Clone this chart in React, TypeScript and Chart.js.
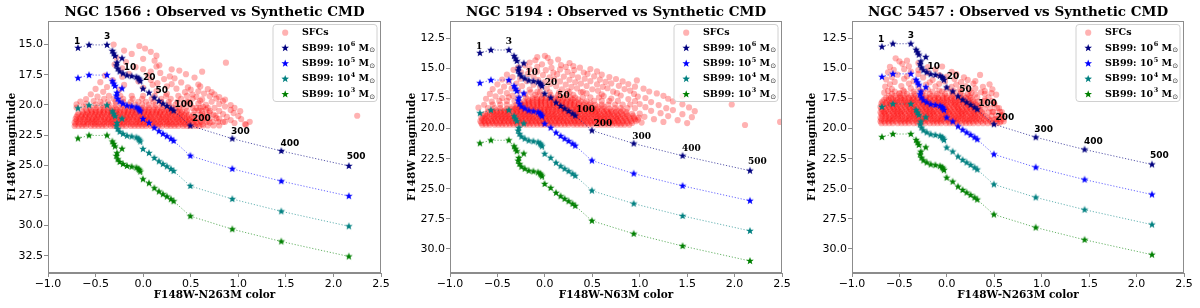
import React, { useEffect, useRef } from "react";
import { Chart, registerables } from "chart.js";
Chart.register(...registerables);

// ------------------------------------------------------------------ data
const GALAXY_NAMES = ["NGC 1566", "NGC 5194", "NGC 5457"];
const X_AXIS_TITLES = ["F148W-N263M color", "F148W-N63M color", "F148W-N263M color"];
const Y_AXIS_TITLE = "F148W magnitude";
const X_TICKS = [-1.0, -0.5, 0.0, 0.5, 1.0, 1.5, 2.0, 2.5];
const Y_TICKS_1566 = [15.0, 17.5, 20.0, 22.5, 25.0, 27.5, 30.0, 32.5];
const Y_TICKS_5194 = [12.5, 15.0, 17.5, 20.0, 22.5, 25.0, 27.5, 30.0];
const Y_TICKS_5457 = [12.5, 15.0, 17.5, 20.0, 22.5, 25.0, 27.5, 30.0];
const X_RANGE = [-1.0, 2.5];
const Y_RANGE_1566 = [13.05, 33.93];
const Y_RANGE_5194 = [11.06, 32.0];
const Y_RANGE_5457 = [11.06, 32.0];

// SB99 10^6 Msun track as seen in NGC 1566 (colour, magnitude)
const TRACK_COLOR = [
  -0.685, -0.569, -0.38, -0.324, -0.31, -0.296, -0.222, -0.275, -0.282, -0.268,
  -0.247, -0.212, -0.17, -0.121, -0.071, -0.05, -0.04, -0.03, -0.002, 0.061,
  0.118, 0.166, 0.208, 0.25, 0.292, 0.32, 0.496, 0.937, 1.452, 2.162,
];
const TRACK_MAG_1566 = [
  15.28, 15.03, 15.03, 15.53, 15.74, 15.94, 16.14, 16.5, 16.73, 17.0,
  17.23, 17.4, 17.56, 17.62, 17.7, 17.8, 17.9, 18.03, 18.66, 18.99,
  19.4, 19.68, 19.9, 20.1, 20.31, 20.48, 21.72, 22.8, 23.82, 25.06,
];
const GALAXY_MAG_SHIFT = [0, -1.56, -2.08];
const MASS_EXPONENTS = ["6", "5", "4", "3"];
const MASS_MAG_SHIFT = [0, 2.5, 5.0, 7.5];
const AGE_LABELS = ["1", "3", "10", "20", "50", "100", "200", "300", "400", "500"];
const AGE_LABEL_POINT = [0, 2, 9, 17, 19, 25, 26, 27, 28, 29];

// Observed SFCs. Dense part as rows: [F148W magnitude, colours in units of 0.01 mag];
// the sparse cloud as [colour, magnitude] pairs.
type Row = [number, number[]];
type Pair = [number, number];
const SFC_1566_DENSE: Row[] = [
  [21.75, [-72, -68, -64, -60, -55, -51, -47, -43, -39, -34, -30, -26, -22, -18, -13, -9, -5, -1, 3, 8, 12, 16, 20, 25, 29, 33, 37, 42, 46, 50, 55, 59]],
  [21.6, [-71, -66, -62, -58, -53, -49, -45, -41, -36, -32, -28, -24, -20, -15, -11, -7, -3, 1, 5, 10, 14, 18, 23, 27, 31, 35, 40, 44, 48, 53, 57, 62]],
  [21.45, [-72, -68, -63, -59, -55, -51, -47, -42, -38, -34, -30, -25, -21, -17, -13, -8, -4, 0, 4, 8, 12, 17, 21, 25, 29, 34, 38, 42, 47, 51, 56]],
  [21.3, [-70, -66, -61, -57, -53, -49, -44, -40, -36, -32, -27, -23, -19, -15, -10, -6, -2, 2, 6, 11, 15, 19, 24, 28, 32, 37, 41, 45, 49, 54, 60]],
  [21.15, [-71, -67, -63, -58, -54, -50, -46, -41, -37, -33, -29, -24, -20, -16, -12, -7, -3, 1, 5, 9, 13, 18, 22, 26, 31, 35, 39, 44, 48, 53]],
  [21.0, [-70, -65, -61, -57, -52, -48, -44, -40, -35, -31, -27, -23, -18, -14, -10, -6, -1, 3, 7, 11, 16, 20, 24, 28, 33, 37, 41, 46, 51]],
  [20.85, [-69, -64, -60, -56, -51, -47, -43, -38, -34, -30, -26, -21, -17, -13, -9, -4, 0, 4, 8, 13, 17, 21, 26, 30, 34, 39, 43, 48]],
  [20.7, [-68, -63, -58, -54, -50, -45, -41, -37, -33, -28, -24, -20, -16, -11, -7, -3, 1, 6, 10, 14, 18, 23, 27, 31, 36, 40, 45]],
  [20.55, [-64, -59, -54, -50, -46, -42, -37, -33, -29, -25, -20, -16, -12, -8, -3, 1, 5, 9, 14, 18, 22, 27, 31, 36, 41]],
  [20.4, [-60, -55, -50, -45, -41, -37, -32, -28, -24, -19, -15, -11, -7, -2, 2, 6, 11, 15, 20, 24, 29, 34, 39]],
  [20.22, [-56, -49, -42, -36, -30, -24, -18, -12, -6, 0, 6, 12, 18, 25, 31, 38, 45]],
  [19.98, [-50, -43, -36, -29, -22, -15, -8, -1, 6, 13, 20, 27, 34, 42]],
  [19.74, [-45, -37, -29, -21, -13, -5, 3, 11, 19, 27, 36, 46]],
  [19.5, [-41, -31, -21, -11, -1, 9, 19, 29, 40]],
  [19.25, [-36, -24, -12, 0, 12, 24, 37]],
  [21.7, [63, 68, 74, 80]],
  [21.4, [61, 67, 73, 79, 86]],
  [21.1, [57, 64, 70, 77]],
  [20.8, [53, 60, 67, 74]],
  [20.5, [46, 54, 62, 70]],
  [20.25, [52, 60, 68]],
];
const SFC_1566_CLOUD: Pair[] = [
  [-0.31, 15.0], [-0.04, 15.12], [0.02, 15.33], [-0.2, 15.5], [0.08, 15.6], [-0.12, 15.78], [0.14, 15.92],
  [0.0, 16.18], [-0.28, 16.1], [0.12, 16.34], [0.87, 16.5], [-0.18, 16.45], [0.17, 16.72], [-0.3, 16.66],
  [-0.08, 16.88], [0.14, 16.82], [0.0, 17.04], [-0.22, 16.97], [0.3, 17.05], [0.08, 17.24], [0.38, 17.16],
  [0.62, 17.25], [-0.15, 17.42], [0.18, 17.35], [0.45, 17.46], [-0.4, 17.58], [-0.22, 17.66], [0.05, 17.55],
  [0.28, 17.64], [0.54, 17.73], [0.33, 17.8], [0.08, 17.93], [0.22, 17.86], [-0.32, 17.95], [-0.45, 18.12],
  [-0.05, 18.05], [0.4, 18.14], [0.15, 18.2], [0.1, 18.33], [0.3, 18.28], [-0.2, 18.35], [0.58, 18.32],
  [-0.38, 18.52], [0.25, 18.46], [0.47, 18.55], [0.6, 18.47], [0.0, 18.58], [-0.5, 18.68], [-0.25, 18.75],
  [0.35, 18.66], [0.5, 18.74], [0.68, 18.7], [-0.42, 18.92], [0.14, 18.86], [0.44, 18.95], [0.58, 18.88],
  [0.72, 18.94], [-0.55, 19.12], [0.25, 19.08], [0.52, 19.15], [0.64, 19.06], [0.75, 19.13], [-0.48, 19.32],
  [0.46, 19.26], [0.56, 19.34], [0.7, 19.28], [0.8, 19.36], [-0.6, 19.52], [0.52, 19.47], [0.62, 19.55],
  [0.77, 19.48], [0.86, 19.56], [-0.66, 19.72], [-0.52, 19.68], [0.48, 19.75], [0.6, 19.66], [0.72, 19.74],
  [0.84, 19.68], [-0.7, 19.96], [-0.6, 19.9], [0.5, 19.98], [0.58, 19.88], [0.66, 20.0], [0.8, 19.92],
  [0.92, 20.02], [-0.7, 20.22], [-0.63, 20.15], [0.56, 20.25], [0.63, 20.16], [0.75, 20.24], [0.86, 20.14],
  [0.96, 20.25], [0.58, 20.45], [0.66, 20.38], [0.8, 20.5], [0.92, 20.42], [1.02, 20.52], [0.62, 20.72],
  [0.7, 20.64], [0.84, 20.76], [0.95, 20.68], [0.64, 20.95], [0.76, 20.9], [0.88, 21.0], [1.0, 20.92],
  [0.66, 21.22], [0.8, 21.15], [0.92, 21.26], [1.03, 21.18], [0.7, 21.47], [0.84, 21.42], [0.96, 21.5],
  [1.12, 21.4], [1.07, 21.6], [1.08, 21.64], [2.25, 20.9],
];

const SFC_5194_DENSE: Row[] = [
  [19.68, [-66, -62, -58, -53, -49, -45, -41, -37, -33, -29, -25, -20, -16, -12, -8, -4, 0, 5, 9, 13, 17, 21, 25, 30, 34, 38, 42, 46, 50, 55, 59, 63, 67, 71, 76, 80, 84, 89]],
  [19.53, [-67, -63, -59, -55, -51, -47, -43, -38, -34, -30, -26, -22, -18, -14, -9, -5, -1, 3, 7, 11, 15, 20, 24, 28, 32, 36, 40, 45, 49, 53, 57, 61, 65, 70, 74, 78, 82, 87, 92]],
  [19.38, [-68, -64, -60, -56, -52, -47, -43, -39, -35, -31, -27, -23, -18, -14, -10, -6, -2, 2, 6, 11, 15, 19, 23, 27, 31, 35, 40, 44, 48, 52, 56, 60, 65, 69, 73, 77, 82, 86, 91, 96]],
  [19.23, [-66, -62, -57, -53, -49, -45, -41, -37, -33, -28, -24, -20, -16, -12, -8, -3, 1, 5, 9, 13, 17, 21, 26, 30, 34, 38, 42, 46, 51, 55, 59, 63, 67, 72, 76, 80, 85, 90, 95]],
  [19.08, [-67, -63, -59, -54, -50, -46, -42, -38, -34, -30, -25, -21, -17, -13, -9, -5, 0, 4, 8, 12, 16, 20, 24, 29, 33, 37, 41, 45, 49, 54, 58, 62, 66, 70, 75, 79, 84, 89, 94, 99]],
  [18.93, [-65, -61, -56, -52, -48, -44, -40, -36, -31, -27, -23, -19, -15, -11, -6, -2, 2, 6, 10, 14, 18, 23, 27, 31, 35, 39, 43, 48, 52, 56, 60, 64, 69, 73, 77, 82, 87, 93]],
  [18.78, [-63, -58, -54, -50, -46, -42, -38, -33, -29, -25, -21, -17, -13, -8, -4, 0, 4, 8, 12, 17, 21, 25, 29, 33, 37, 42, 46, 50, 54, 58, 63, 67, 71, 76, 81, 86, 92]],
  [18.63, [-60, -55, -51, -47, -43, -39, -34, -30, -26, -22, -18, -14, -9, -5, -1, 3, 7, 11, 16, 20, 24, 28, 32, 36, 41, 45, 49, 53, 57, 62, 66, 70, 75, 80, 86]],
  [18.48, [-56, -51, -46, -42, -38, -33, -29, -25, -21, -17, -12, -8, -4, 0, 4, 9, 13, 17, 21, 25, 30, 34, 38, 42, 47, 51, 55, 60, 65, 70, 76, 82]],
  [18.33, [-40, -35, -31, -27, -22, -18, -14, -10, -5, -1, 3, 7, 12, 16, 20, 24, 29, 33, 37, 42, 46, 51, 56, 62, 68]],
  [18.18, [-34, -29, -25, -21, -16, -12, -8, -4, 1, 5, 9, 13, 18, 22, 26, 31, 35, 40, 45, 50, 56, 62]],
  [18.03, [-30, -25, -21, -17, -12, -8, -4, 1, 5, 9, 14, 18, 22, 27, 31, 36, 41, 47, 53]],
  [17.88, [-26, -21, -17, -13, -8, -4, 0, 5, 9, 13, 18, 22, 27, 31, 36, 42, 48]],
  [17.73, [-22, -17, -13, -8, -4, 0, 5, 9, 14, 18, 23, 27, 32, 38, 44]],
  [17.58, [-18, -13, -8, -4, 1, 5, 10, 14, 19, 24, 29, 35]],
  [17.43, [-13, -8, -3, 1, 6, 11, 16, 21, 27, 32]],
  [18.3, [-60, -53, -47, 74, 80, 87, 95]],
  [18.0, [-55, -47, -40, 60, 67, 74, 82, 90]],
  [17.7, [-48, -40, -32, 52, 60, 68, 77]],
  [17.4, [-38, -28, -20, 40, 48, 57]],
  [17.2, [-10, -2, 6, 14, 22, 30]],
  [16.98, [-15, -5, 5, 15, 26, 38]],
];
const SFC_5194_CLOUD: Pair[] = [
  [0.0, 13.95], [0.03, 14.12], [-0.08, 14.06], [-0.1, 14.32], [0.14, 14.26], [-0.16, 14.52], [0.06, 14.46],
  [0.26, 14.55], [-0.21, 14.74], [-0.03, 14.66], [0.17, 14.72], [0.3, 14.8], [-0.28, 14.92], [-0.08, 14.86],
  [0.07, 14.95], [0.22, 14.88], [0.37, 14.94], [-0.33, 15.12], [-0.16, 15.06], [0.01, 15.15], [0.16, 15.08],
  [0.31, 15.14], [0.48, 15.05], [-0.25, 15.33], [-0.08, 15.26], [0.09, 15.35], [0.24, 15.28], [0.41, 15.34],
  [0.55, 15.25], [-0.4, 15.52], [-0.18, 15.46], [-0.02, 15.55], [0.13, 15.48], [0.29, 15.54], [0.45, 15.45],
  [0.6, 15.52], [-0.34, 15.72], [-0.12, 15.66], [0.05, 15.74], [0.2, 15.68], [0.35, 15.75], [0.52, 15.66],
  [0.68, 15.72], [-0.45, 15.92], [-0.26, 15.86], [-0.07, 15.95], [0.1, 15.88], [0.26, 15.94], [0.42, 15.86],
  [0.58, 15.93], [0.75, 15.88], [0.97, 16.0], [-0.38, 16.12], [-0.19, 16.06], [0.0, 16.14], [0.16, 16.08],
  [0.32, 16.15], [0.48, 16.06], [0.64, 16.12], [0.82, 16.08], [-0.5, 16.32], [-0.3, 16.26], [-0.12, 16.35],
  [0.06, 16.28], [0.22, 16.34], [0.38, 16.26], [0.55, 16.33], [0.7, 16.25], [0.88, 16.3], [-0.43, 16.52],
  [-0.24, 16.46], [-0.05, 16.55], [0.12, 16.48], [0.28, 16.54], [0.44, 16.46], [0.61, 16.53], [0.78, 16.45],
  [0.95, 16.52], [-0.55, 16.72], [-0.35, 16.66], [-0.16, 16.75], [0.02, 16.68], [0.18, 16.74], [0.34, 16.66],
  [0.5, 16.73], [0.66, 16.65], [0.84, 16.72], [1.04, 16.68], [-0.47, 16.92], [-0.28, 16.86], [-0.08, 16.95],
  [0.24, 16.88], [0.4, 16.94], [0.56, 16.86], [0.72, 16.93], [0.9, 16.85], [1.1, 16.92], [-0.58, 17.12],
  [-0.4, 17.06], [-0.21, 17.14], [0.44, 17.08], [0.6, 17.15], [0.76, 17.06], [0.94, 17.12], [1.18, 17.08],
  [-0.52, 17.32], [-0.34, 17.26], [0.62, 17.3], [0.8, 17.25], [0.98, 17.34], [1.25, 17.28], [1.45, 17.32],
  [-0.62, 17.52], [-0.45, 17.46], [0.7, 17.5], [0.88, 17.55], [1.06, 17.46], [1.3, 17.52], [-0.56, 17.76],
  [0.95, 17.72], [1.12, 17.8], [1.35, 17.74], [-0.64, 18.02], [1.0, 17.96], [1.2, 18.05], [1.45, 17.98],
  [1.97, 18.0], [-0.7, 18.26], [1.06, 18.22], [1.28, 18.3], [1.52, 18.24], [1.12, 18.52], [1.35, 18.46],
  [1.58, 18.55], [1.0, 18.76], [1.22, 18.72], [1.45, 18.8], [1.05, 19.02], [1.3, 18.96], [1.55, 19.05],
  [0.98, 19.26], [1.15, 19.22], [1.4, 19.3], [1.02, 19.5], [1.25, 19.45], [1.5, 19.54], [2.11, 19.7],
  [2.48, 19.45],
];

const SFC_5457_DENSE: Row[] = [
  [19.55, [-69, -65, -61, -57, -52, -48, -44, -40, -35, -31, -27, -23, -18, -14, -10, -6, -1, 3, 7, 11, 16, 20, 24, 28, 33, 38, 43, 48, 53]],
  [19.4, [-70, -66, -62, -58, -54, -49, -45, -41, -37, -32, -28, -24, -20, -15, -11, -7, -3, 2, 6, 10, 14, 19, 23, 27, 31, 36, 41, 46, 52, 57]],
  [19.25, [-69, -64, -60, -56, -51, -47, -43, -39, -34, -30, -26, -22, -17, -13, -9, -5, 0, 4, 8, 12, 17, 21, 25, 30, 34, 39, 45, 50]],
  [19.1, [-70, -65, -61, -57, -53, -49, -44, -40, -36, -32, -27, -23, -19, -15, -10, -6, -2, 2, 7, 11, 15, 19, 24, 28, 32, 37, 43]],
  [18.95, [-68, -64, -59, -55, -51, -47, -42, -38, -34, -30, -25, -21, -17, -13, -8, -4, 0, 5, 9, 13, 17, 22, 26, 30, 35, 40, 47]],
  [18.8, [-69, -65, -61, -56, -52, -48, -44, -39, -35, -31, -27, -22, -18, -14, -10, -5, -1, 3, 7, 12, 16, 20, 25, 29, 33, 38]],
  [18.65, [-70, -66, -62, -57, -53, -49, -45, -40, -36, -32, -28, -23, -19, -15, -11, -6, -2, 2, 6, 11, 15, 19, 23, 28, 32, 37, 44]],
  [18.5, [-68, -64, -59, -55, -51, -47, -42, -38, -34, -30, -25, -21, -17, -13, -8, -4, 0, 4, 9, 13, 17, 21, 26, 30, 35]],
  [18.35, [-69, -65, -60, -56, -52, -48, -43, -39, -35, -31, -26, -22, -18, -14, -9, -5, -1, 3, 8, 12, 16, 21, 25, 29, 34, 40]],
  [18.2, [-70, -66, -61, -57, -53, -49, -44, -40, -36, -32, -27, -23, -19, -15, -10, -6, -2, 2, 7, 11, 15, 20, 24, 28, 33]],
  [18.05, [-68, -63, -59, -55, -51, -46, -42, -38, -34, -29, -25, -21, -17, -12, -8, -4, 0, 5, 9, 13, 18, 22, 27, 31, 36]],
  [17.9, [-69, -64, -60, -56, -52, -47, -43, -39, -35, -30, -26, -22, -18, -13, -9, -5, -1, 4, 8, 12, 17, 21, 25, 30]],
  [17.75, [-68, -63, -58, -54, -50, -45, -41, -37, -33, -28, -24, -20, -16, -11, -7, -3, 1, 6, 10, 14, 19, 23, 28, 33]],
  [17.6, [-66, -61, -57, -52, -48, -44, -39, -35, -31, -26, -22, -18, -13, -9, -5, 0, 4, 8, 13, 17, 22, 27]],
  [17.45, [-64, -59, -54, -49, -45, -40, -36, -31, -27, -22, -18, -13, -9, -4, 0, 5, 10, 15, 20, 25]],
  [17.3, [-61, -55, -49, -44, -38, -33, -27, -22, -16, -11, -5, 0, 6, 12, 18, 24]],
  [17.12, [-58, -50, -42, -34, -26, -18, -10, -2, 6, 14, 22]],
  [16.92, [-55, -45, -35, -25, -15, -5, 5, 15]],
  [19.5, [56]], [19.2, [55]], [18.9, [52, 58]], [18.6, [49, 56]], [18.3, [46, 53]],
  [18.0, [42, 50]], [17.7, [40, 48]], [17.4, [32, 44]],
];
const SFC_5457_CLOUD: Pair[] = [
  [-0.54, 14.16], [-0.5, 14.42], [-0.42, 14.36], [-0.47, 14.62], [-0.3, 14.56], [-0.6, 14.88], [-0.4, 14.82],
  [-0.2, 14.9], [-0.05, 14.84], [-0.56, 15.12], [-0.45, 15.06], [-0.3, 15.14], [-0.12, 15.08], [-0.62, 15.32],
  [-0.38, 15.26], [-0.2, 15.35], [0.05, 15.28], [-0.52, 15.52], [-0.3, 15.46], [-0.08, 15.55], [0.1, 15.48],
  [0.35, 15.54], [-0.58, 15.72], [-0.42, 15.66], [-0.25, 15.75], [0.0, 15.68], [0.18, 15.74], [-0.64, 15.92],
  [-0.45, 15.86], [-0.15, 15.95], [0.08, 15.88], [0.22, 15.96], [-0.55, 16.12], [-0.35, 16.06], [-0.18, 16.15],
  [-0.02, 16.08], [0.15, 16.14], [0.3, 16.06], [-0.6, 16.32], [-0.4, 16.26], [-0.22, 16.35], [-0.08, 16.28],
  [0.1, 16.34], [0.28, 16.26], [0.45, 16.32], [-0.65, 16.52], [-0.48, 16.46], [-0.3, 16.55], [-0.12, 16.48],
  [0.05, 16.54], [0.2, 16.46], [0.38, 16.53], [-0.58, 16.72], [-0.38, 16.66], [-0.2, 16.75], [0.0, 16.68],
  [0.14, 16.74], [0.3, 16.66], [0.48, 16.73], [-0.62, 16.87], [-0.46, 16.82], [-0.28, 16.9], [-0.08, 16.84],
  [0.08, 16.9], [0.24, 16.82], [0.4, 16.88], [-0.66, 17.02], [-0.5, 17.06], [0.26, 17.04], [0.36, 16.98],
  [0.47, 17.06], [0.3, 17.16], [0.4, 17.12], [0.52, 17.18], [0.4, 17.6], [0.5, 17.9], [0.55, 18.3],
  [0.48, 18.6], [0.58, 18.62], [0.58, 18.9], [0.52, 19.2], [0.6, 19.18], [0.6, 19.4],
];

const Y_TICKS = [Y_TICKS_1566, Y_TICKS_5194, Y_TICKS_5457];
const Y_RANGES = [Y_RANGE_1566, Y_RANGE_5194, Y_RANGE_5457];
const SFC_DENSE = [SFC_1566_DENSE, SFC_5194_DENSE, SFC_5457_DENSE];
const SFC_CLOUD = [SFC_1566_CLOUD, SFC_5194_CLOUD, SFC_5457_CLOUD];

// ------------------------------------------------------------------ style / layout
const PANEL_W = 400;
const PANEL_H = 308;
const PLOT_LEFT = [48, 50, 52];
const PLOT_RIGHT_PAD = [19, 18, 16];
const PLOT_TOP = 21;
const X_AXIS_H = 35;
const SERIES_COLORS = ["#000080", "#0000ff", "#008080", "#008000"];
const LINE_COLORS = ["rgba(0,0,128,0.65)", "rgba(0,0,255,0.6)", "rgba(0,128,128,0.6)", "rgba(0,128,0,0.6)"];
const SFC_COLOR = "rgba(255,0,0,0.3)";
const FRAME_COLOR = "#8c8c8c";
const AGE_DX = [-4, -3, 6, 2.7, 6.6, 1, 1.6, -1.4, -0.7, -2];
const AGE_DY = [-6.7, -8, -1.2, -3.1, -1.8, -6, -6.9, -7.3, -7.4, -9];

const fmt = (v: number) => (v < 0 ? "\u2212" : "") + Math.abs(v).toFixed(1);

function starPath(ctx: CanvasRenderingContext2D, cx: number, cy: number, r: number) {
  ctx.beginPath();
  for (let i = 0; i < 10; i++) {
    const rad = i % 2 === 0 ? r : r * 0.42;
    const a = -Math.PI / 2 + (i * Math.PI) / 5;
    ctx.lineTo(cx + rad * Math.cos(a), cy + rad * Math.sin(a));
  }
  ctx.closePath();
}

function starImage(color: string, r: number) {
  const c = document.createElement("canvas");
  const s = Math.ceil(r * 2 + 2);
  c.width = s;
  c.height = s;
  const ctx = c.getContext("2d")!;
  ctx.fillStyle = color;
  starPath(ctx, s / 2, s / 2, r);
  ctx.fill();
  return c;
}

function sfcPoints(p: number) {
  const pts: { x: number; y: number }[] = [];
  SFC_DENSE[p].forEach(([m, xs]) => xs.forEach((c) => pts.push({ x: c / 100, y: m })));
  SFC_CLOUD[p].forEach(([c, m]) => pts.push({ x: c, y: m }));
  return pts;
}

function buildConfig(p: number): any {
  const tracks = MASS_EXPONENTS.map((e, k) => ({
    type: "scatter",
    label: "SB99: 10^" + e,
    data: TRACK_COLOR.map((c, i) => ({ x: c, y: TRACK_MAG_1566[i] + GALAXY_MAG_SHIFT[p] + MASS_MAG_SHIFT[k] })),
    showLine: true,
    borderColor: LINE_COLORS[k],
    borderWidth: 1,
    borderDash: [1.2, 1.8],
    backgroundColor: SERIES_COLORS[k],
    pointStyle: starImage(SERIES_COLORS[k], 4),
    pointRadius: 4,
    pointHoverRadius: 4,
    order: 1 + k,
  }));

  const datasets = [
    ...tracks,
    {
      type: "scatter",
      label: "SFCs",
      data: sfcPoints(p),
      pointRadius: 3.1,
      pointHoverRadius: 3.1,
      backgroundColor: SFC_COLOR,
      borderWidth: 0,
      order: 10,
    },
  ];

  const decor = {
    id: "decor" + p,
    afterDatasetsDraw(chart: any) {
      const ctx = chart.ctx as CanvasRenderingContext2D;
      const xs = chart.scales.x;
      const ys = chart.scales.y;
      ctx.save();
      ctx.font = p === 1 ? 'bold 9px "DejaVu Serif"' : 'bold 9px "DejaVu Sans"';
      ctx.fillStyle = "#000";
      ctx.textAlign = "left";
      ctx.textBaseline = "middle";
      AGE_LABELS.forEach((t, i) => {
        const k = AGE_LABEL_POINT[i];
        const px = xs.getPixelForValue(TRACK_COLOR[k]);
        const py = ys.getPixelForValue(TRACK_MAG_1566[k] + GALAXY_MAG_SHIFT[p]);
        ctx.fillText(t, px + AGE_DX[i], py + AGE_DY[i]);
      });
      ctx.restore();
    },
    afterDraw(chart: any) {
      const ctx = chart.ctx as CanvasRenderingContext2D;
      const a = chart.chartArea;
      ctx.save();
      // frame
      ctx.strokeStyle = FRAME_COLOR;
      ctx.lineWidth = 1;
      ctx.strokeRect(Math.round(a.left) + 0.5, Math.round(a.top) + 0.5, Math.round(a.right - a.left) - 1, Math.round(a.bottom - a.top) - 1);
      // title
      ctx.fillStyle = "#000";
      ctx.textAlign = "center";
      ctx.textBaseline = "middle";
      ctx.font = 'bold 13.5px "DejaVu Serif"';
      ctx.fillText(GALAXY_NAMES[p] + " : Observed vs Synthetic CMD", (a.left + a.right) / 2, 12.5);
      // axis titles
      ctx.font = 'bold 10.5px "DejaVu Serif"';
      ctx.fillText(X_AXIS_TITLES[p], (a.left + a.right) / 2, 295);
      ctx.save();
      ctx.translate(12, (a.top + a.bottom) / 2);
      ctx.rotate(-Math.PI / 2);
      ctx.fillText(Y_AXIS_TITLE, 0, 0);
      ctx.restore();
      // legend
      const bw = 104, bh = 77;
      const bx = a.right - 4.5 - bw;
      const by = a.top + 3;
      ctx.fillStyle = "rgba(255,255,255,0.82)";
      ctx.strokeStyle = "#d0d0d0";
      ctx.beginPath();
      (ctx as any).roundRect(bx + 0.5, by + 0.5, bw, bh, 3);
      ctx.fill();
      ctx.stroke();
      const rowY = (i: number) => by + 8.7 + i * 15.4;
      const mx = bx + 12.7;
      const tx = bx + 29.5;
      ctx.fillStyle = SFC_COLOR;
      ctx.beginPath();
      ctx.arc(mx, rowY(0), 3.1, 0, Math.PI * 2);
      ctx.fill();
      ctx.fillStyle = "#000";
      ctx.textAlign = "left";
      ctx.textBaseline = "middle";
      ctx.font = 'bold 9.5px "DejaVu Serif"';
      ctx.fillText("SFCs", tx, rowY(0));
      MASS_EXPONENTS.forEach((e, k) => {
        const y = rowY(k + 1);
        ctx.fillStyle = SERIES_COLORS[k];
        starPath(ctx, mx, y, 4);
        ctx.fill();
        ctx.fillStyle = "#000";
        let x = tx;
        ctx.font = 'bold 9.5px "DejaVu Serif"';
        ctx.fillText("SB99: 10", x, y);
        x += ctx.measureText("SB99: 10").width + 0.5;
        ctx.font = 'bold 6.5px "DejaVu Serif"';
        ctx.fillText(e, x, y - 3.5);
        x += ctx.measureText(e).width;
        ctx.font = 'bold 9.5px "DejaVu Serif"';
        ctx.fillText(" M", x, y);
        x += ctx.measureText(" M").width + 0.3;
        ctx.font = '7px "DejaVu Sans"';
        ctx.fillStyle = "#333";
        ctx.fillText("\u2299", x, y + 2.5);
      });
      ctx.restore();
    },
  };

  return {
    type: "scatter",
    data: { datasets },
    plugins: [decor],
    options: {
      responsive: false,
      maintainAspectRatio: false,
      devicePixelRatio: 1,
      animation: false,
      events: [],
      layout: { padding: { left: 0, right: PLOT_RIGHT_PAD[p], top: PLOT_TOP, bottom: 0 } },
      plugins: { legend: { display: false }, tooltip: { enabled: false }, title: { display: false } },
      scales: {
        x: {
          type: "linear",
          min: X_RANGE[0],
          max: X_RANGE[1],
          afterBuildTicks: (s: any) => {
            s.ticks = X_TICKS.map((v) => ({ value: v }));
          },
          afterFit: (s: any) => {
            s.height = X_AXIS_H;
          },
          ticks: {
            callback: (v: number) => fmt(v),
            font: { family: "DejaVu Sans", size: 11 },
            color: "#000",
            padding: 1,
            maxRotation: 0,
            autoSkip: false,
          },
          grid: { drawOnChartArea: false, tickLength: 4, color: FRAME_COLOR },
          border: { display: true, color: FRAME_COLOR },
        },
        y: {
          type: "linear",
          reverse: true,
          min: Y_RANGES[p][0],
          max: Y_RANGES[p][1],
          afterBuildTicks: (s: any) => {
            s.ticks = Y_TICKS[p].map((v) => ({ value: v }));
          },
          afterFit: (s: any) => {
            s.width = PLOT_LEFT[p];
          },
          ticks: {
            callback: (v: number) => fmt(v),
            font: { family: "DejaVu Sans", size: 11 },
            color: "#000",
            padding: 1,
            autoSkip: false,
          },
          grid: { drawOnChartArea: false, tickLength: 4, color: FRAME_COLOR },
          border: { display: true, color: FRAME_COLOR },
        },
      },
    },
  };
}

function Panel({ idx }: { idx: number }) {
  const ref = useRef<HTMLCanvasElement>(null);
  useEffect(() => {
    const chart = new Chart(ref.current!, buildConfig(idx));
    return () => chart.destroy();
  }, [idx]);
  return (
    <div style={{ position: "absolute", left: idx * PANEL_W, top: 0, width: PANEL_W, height: PANEL_H }}>
      <canvas ref={ref} width={PANEL_W} height={PANEL_H} style={{ width: PANEL_W, height: PANEL_H, display: "block" }} />
    </div>
  );
}

export default function App() {
  return (
    <div style={{ position: "absolute", left: 0, top: 0, width: 1200, height: 308, background: "#fff", overflow: "hidden" }}>
      {[0, 1, 2].map((i) => (
        <Panel key={i} idx={i} />
      ))}
    </div>
  );
}
